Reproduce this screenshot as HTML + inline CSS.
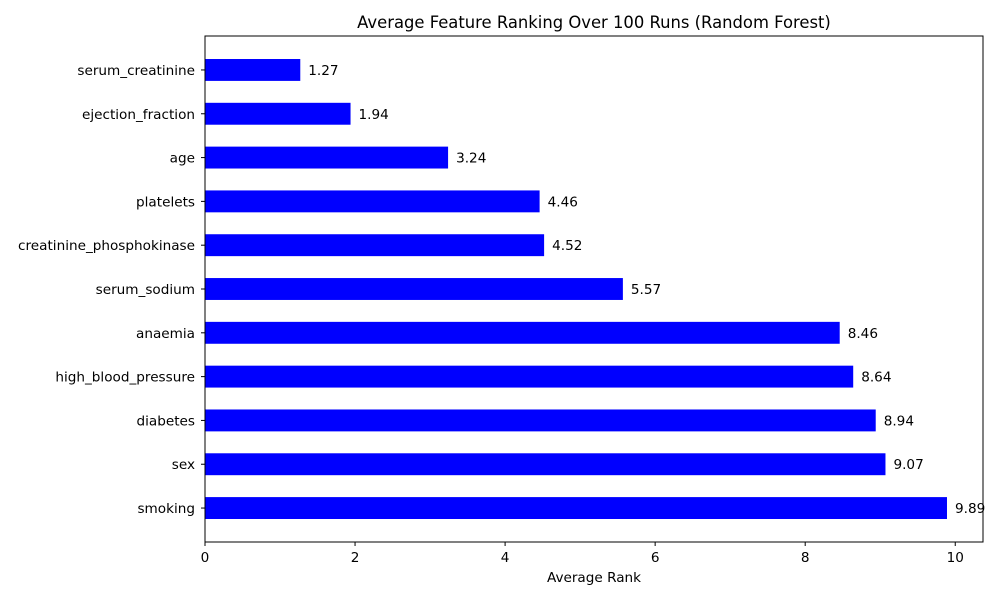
<!DOCTYPE html>
<html><head><meta charset="utf-8"><style>
body{margin:0;background:#fff;}
svg text{font-family:"DejaVu Sans","Liberation Sans",sans-serif;}
</style></head><body>
<svg id="chart" width="1000" height="600" xmlns="http://www.w3.org/2000/svg">
<text x="594" y="28" font-size="16.4" text-anchor="middle">Average Feature Ranking Over 100 Runs (Random Forest)</text>
<g id="bars"></g>
<g id="axes"></g>
<text x="594" y="582" font-size="13.6" text-anchor="middle">Average Rank</text>
</svg>
<script>
const categories = ["smoking","sex","diabetes","high_blood_pressure","anaemia","serum_sodium","creatinine_phosphokinase","platelets","age","ejection_fraction","serum_creatinine"];
const values = [9.89,9.07,8.94,8.64,8.46,5.57,4.52,4.46,3.24,1.94,1.27];
const labels = ["9.89","9.07","8.94","8.64","8.46","5.57","4.52","4.46","3.24","1.94","1.27"];
const xTicks = [0,2,4,6,8,10];

const L=205,R=983,T=36,B=542;
const xMax=10.37;
const x=v=>L+v/xMax*(R-L);
const yMin=-0.775,yMax=categories.length-1+0.775;
const y=i=>B-(i-yMin)/(yMax-yMin)*(B-T);
const NS="http://www.w3.org/2000/svg";
const bars=document.getElementById('bars'),axes=document.getElementById('axes');
function mk(tag,attrs,parent,text){const e=document.createElementNS(NS,tag);for(const k in attrs)e.setAttribute(k,attrs[k]);if(text!==undefined)e.textContent=text;parent.appendChild(e);return e;}
const bh=(y(0)-y(1))*0.5;
categories.forEach((c,i)=>{
  const r=mk('rect',{x:x(0),y:y(i)-bh/2,width:x(values[i])-x(0),height:bh,fill:'#0000ff'},bars);
  
  
  const t=mk('text',{x:x(values[i])+8,y:y(i)+5,'font-size':13.6},bars,labels[i]);
  
  
  mk('line',{x1:L-4,x2:L,y1:y(i),y2:y(i),stroke:'#000'},axes);
  const yl=mk('text',{x:L-10,y:y(i)+5,'font-size':13.6,'text-anchor':'end'},axes,c);
  
  
});
xTicks.forEach(v=>{
  mk('line',{x1:x(v),x2:x(v),y1:B,y2:B+4,stroke:'#000'},axes);
  const t=mk('text',{x:x(v),y:B+20,'font-size':13.6,'text-anchor':'middle'},axes,String(v));
  
  
});
const f=mk('rect',{x:L,y:T,width:R-L,height:B-T,fill:'none',stroke:'#000','stroke-width':1},axes);


</script>
</body></html>
